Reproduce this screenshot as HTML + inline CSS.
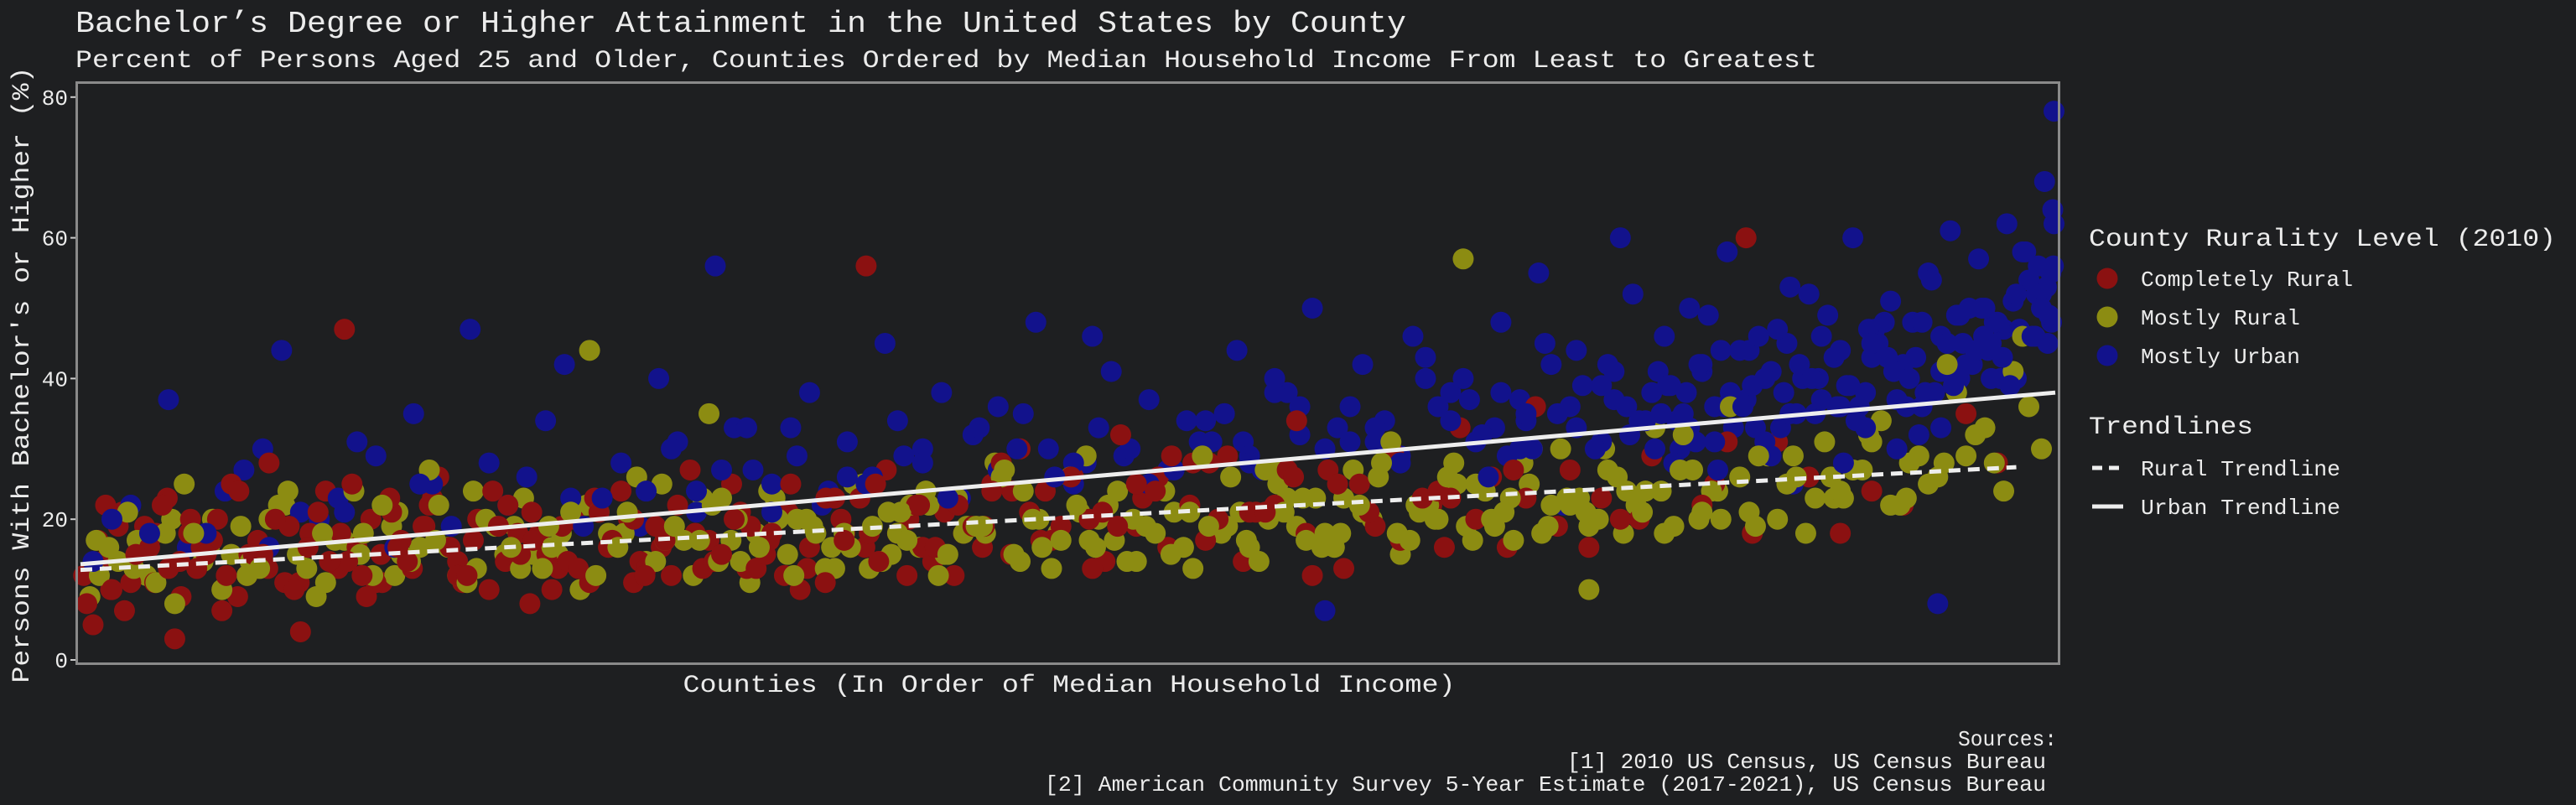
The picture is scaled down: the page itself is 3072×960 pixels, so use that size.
<!DOCTYPE html>
<html><head><meta charset="utf-8"><style>
html,body{margin:0;padding:0;background:#1e1f21;}
svg{display:block;}
text{font-family:"Liberation Mono",monospace;fill:#ececec;}
</style></head><body>
<svg id="chart" width="3072" height="960" viewBox="0 0 3072 960" xmlns="http://www.w3.org/2000/svg">
<rect x="0" y="0" width="3072" height="960" fill="#1e1f21"/>
<text x="90" y="38" font-size="36" textLength="1587" lengthAdjust="spacingAndGlyphs">Bachelor’s Degree or Higher Attainment in the United States by County</text>
<text x="90" y="80" font-size="30" textLength="2077" lengthAdjust="spacingAndGlyphs">Percent of Persons Aged 25 and Older, Counties Ordered by Median Household Income From Least to Greatest</text>
<g id="points"></g>
<g id="trends"></g>
<rect x="91.5" y="98.5" width="2364" height="693" fill="none" stroke="#8a8a8a" stroke-width="3"/>
<g id="yaxis"></g>
<text transform="translate(34,447) rotate(-90)" text-anchor="middle" font-size="30" textLength="735" lengthAdjust="spacingAndGlyphs">Persons With Bachelor's or Higher (%)</text>
<text x="1275" y="825" text-anchor="middle" font-size="30" textLength="921" lengthAdjust="spacingAndGlyphs">Counties (In Order of Median Household Income)</text>

<g>
<text x="2491" y="293" font-size="30" textLength="557" lengthAdjust="spacingAndGlyphs">County Rurality Level (2010)</text>
<g><circle cx="2513" cy="332" r="12.5" fill="#8b1111"/><text x="2553" y="341" font-size="26" textLength="253" lengthAdjust="spacingAndGlyphs">Completely Rural</text></g>
<g><circle cx="2513" cy="378" r="12.5" fill="#8c8c12"/><text x="2553" y="387" font-size="26" textLength="190" lengthAdjust="spacingAndGlyphs">Mostly Rural</text></g>
<g><circle cx="2513" cy="424" r="12.5" fill="#12128c"/><text x="2553" y="433" font-size="26" textLength="190" lengthAdjust="spacingAndGlyphs">Mostly Urban</text></g>
</g>
<g>
<text x="2491" y="517" font-size="30" textLength="196" lengthAdjust="spacingAndGlyphs">Trendlines</text>
<g><line x1="2495" y1="558" x2="2532" y2="558" stroke="#eeeeee" stroke-width="5" stroke-dasharray="12,8"/><text x="2553" y="567" font-size="26" textLength="238" lengthAdjust="spacingAndGlyphs">Rural Trendline</text></g>
<g><line x1="2495" y1="604" x2="2532" y2="604" stroke="#eeeeee" stroke-width="5"/><text x="2553" y="613" font-size="26" textLength="238" lengthAdjust="spacingAndGlyphs">Urban Trendline</text></g>
</g>

<g>
<text x="2335" y="889" font-size="26" textLength="118" lengthAdjust="spacingAndGlyphs">Sources:</text>
<text x="1869" y="916" font-size="26" textLength="571" lengthAdjust="spacingAndGlyphs">[1] 2010 US Census, US Census Bureau</text>
<text x="1246" y="943" font-size="26" textLength="1194" lengthAdjust="spacingAndGlyphs">[2] American Community Survey 5-Year Estimate (2017-2021), US Census Bureau</text>
</g>
</svg>
<script>
const yTicks = [0, 20, 40, 60, 80];
const redRank = [10,35,60,80,110,130,160,185,210,240,265,290,310,340,365,390,410,440,470,495,520,545,570,600,625,650,680,700,730,760,785,810,840,860,890,915,940,970,1000,1020,1050,1075,1100,1130,1160,1185,1210,1240,1270,1300,1330,1360,1390,1420,1450,1480,1510,1545,1580,1610,1650,1690,1730,1770,1810,1850,1900,1950,2000,2050,2100,2160,2220,2280,2350,2420,2500,2580,2660,2750,
20,50,95,140,175,225,275,325,375,425,455,505,555,615,665,715,775,825,880,930,990,1040,1090,1145,1200,1255,1315,1375,1435,1495,1560,1630,1710,1790,1870,1960,2060,2170,2300,2450,
2600,2800,3000,2900,2700,
40,120,200,300,420,560,720,880,1060,1250,1450,1680,1920,2150,2400,2650,2850,3050,
70,150,250,350,480,600,750,900,1120,1340,
5,28,48,66,88,102,118,138,158,172,192,218,232,252,268,282,298,318,332,348,362,378,396,414,432,448,462,478,492,510,528,548,568,588,608,632,656,676,696,718,742,766,792,818,846,872,898,924,950,978,1008,1036,1066,1096,1126,1156,1186,1216,1248,1282,1318,1356,1396,1438,1482,1528,1576,1626,1680,1736,1796,1860,1930,2010,2090,2180,2270,2370,2480,2620,
1215,1265,1335,1405,1465,1535,1605,1655,1715,1765,1825,1885,1935,1985,2035,2085,2135,2195,2245,2315,2385,2435,2515,2545,2635,2715,2785,2865,2945,3025];
const redPct = [8,14,19,11,16,22,9,13,17,25,12,15,20,10,18,24,13,16,11,21,14,19,26,12,17,10,22,15,18,13,20,11,16,24,14,19,12,27,17,15,21,13,18,25,16,11,20,23,14,18,22,16,12,19,24,15,21,17,26,13,19,23,16,28,20,14,22,18,25,21,17,24,20,27,19,23,29,22,18,26,
5,10,17,13,20,7,15,11,18,14,9,16,22,12,19,8,14,21,11,17,13,20,15,10,23,18,12,21,16,30,19,14,24,17,21,12,19,16,23,20,
25,18,35,22,31,
22,18,15,28,47,23,17,20,13,56,25,19,27,22,16,60,24,28,
7,3,9,4,11,14,10,13,12,16,
12,17,10,21,15,19,11,23,14,18,16,20,12,24,15,17,13,22,19,11,16,21,14,18,25,12,20,15,23,17,13,19,22,16,11,20,24,14,18,21,15,19,13,23,17,20,12,16,22,18,14,25,19,17,21,13,23,18,16,27,20,14,22,19,24,17,26,21,25,29,
28,21,26,13,29,23,16,27,20,31,17,25,22,18,28,24,20,32,26,22,29,21,34,27,25,30,23,33,26,36];
const oliveRank = [15,45,75,105,135,165,195,225,255,285,315,345,375,405,435,465,495,525,555,585,615,645,675,705,735,765,795,825,855,885,915,945,975,1005,1035,1065,1095,1125,1155,1185,1215,1245,1275,1305,1335,1365,1395,1425,1455,1485,1515,1545,1575,1605,1635,1665,1695,1725,1755,1785,1815,1845,1875,1905,1935,1965,1995,2025,2055,2085,2115,2145,2175,2205,2235,2265,2295,2325,2355,2385,2415,2445,2475,2505,2535,2565,2595,2625,2655,2685,2715,2745,2775,2805,2835,2865,2895,2925,2955,2985,3015,3045,3075,3100,
30,90,150,210,270,330,390,450,510,570,630,690,750,810,870,930,990,1050,1110,1170,1230,1290,1350,1410,1470,1530,1590,1650,1710,1770,1830,1890,1950,2010,2070,2130,2190,2250,2310,2370,2430,2490,2550,2610,2670,2730,2790,2850,2910,2970,3030,3090,1000,1600,2200,500,2800,1300,1900,2400,
60,120,180,240,300,360,420,480,540,600,660,720,780,840,900,960,1020,1080,1140,1200,1260,1320,1380,1440,1500,1560,1620,1680,1740,1800,1860,1920,1980,2040,2100,2160,2220,2280,2340,2400,2460,2520,2580,2640,2700,2760,2820,2880,2940,3000,3060,3120,
700,760,820,1015,1075,1135,1195,1255,1315,1375,1435,1495,1555,1615,1675,1735,1795,1855,1915,1975,2035,2095,2155,2215,2275,2335,2395,2455,2515,2575,
25,85,145,205,265,325,385,445,505,565,625,685,745,805,865,925,985,1045,1105,1165,1225,1285,1345,1405,1465,1525,1585,1645,1705,1765,1825,1885,1945,2005,2065,2125,2185,2245,2305,2365,2425,2485,2545,2605,2665,2725,2785,2845,2905,2965];
const olivePct = [9,16,21,12,18,25,14,10,19,13,22,15,9,17,24,12,19,14,27,16,11,20,15,23,13,18,10,21,16,26,14,19,12,22,17,11,24,15,20,13,18,25,14,21,16,12,23,19,28,15,20,13,26,17,22,14,19,24,16,29,18,21,14,25,19,23,16,27,20,31,17,22,26,19,24,21,28,18,30,23,20,26,22,33,19,27,24,36,21,29,25,18,31,23,27,34,22,29,26,38,32,28,41,36,
12,17,8,20,14,24,11,18,15,22,13,19,16,44,21,17,23,14,20,18,25,15,22,19,27,16,21,24,18,13,26,20,17,23,28,21,25,19,30,22,27,24,32,20,29,26,23,31,28,42,33,46,35,29,57,12,24,18,27,10,
14,11,18,15,20,13,17,22,16,12,19,15,21,18,14,17,23,16,20,13,19,22,15,18,24,17,20,14,21,19,16,23,18,21,15,20,25,17,22,19,24,18,21,26,20,23,27,22,25,29,24,30,
13,15,12,14,18,12,16,13,17,15,19,14,18,16,20,15,19,17,21,16,22,18,20,17,23,19,21,18,24,20,
17,13,20,16,12,22,18,15,21,17,24,16,19,22,18,25,17,20,23,19,16,21,24,18,26,20,22,17,25,21,19,27,23,18,26,22,28,20,25,23,30,21,27,24,19,29,26,32,23,28];
const blueRank = [20,80,140,200,260,320,380,440,500,560,620,680,740,800,860,920,980,1040,1100,1160,1220,1280,1340,1400,1460,1520,1580,1640,1700,1760,1800,1840,1880,1920,1960,2000,2040,2080,2120,2160,2200,2230,2260,2290,2320,2350,2380,2410,2440,2470,2500,2520,2540,2560,2580,2600,2620,2640,2660,2680,2700,2720,2740,2760,2780,2800,2820,2840,2860,2880,2900,2915,2930,2945,2960,2975,2990,3005,3020,3035,3050,3065,3080,3095,3110,3125,3135,3140,
50,170,290,410,530,650,770,890,1010,1130,1250,1370,1490,1610,1730,1820,1900,1980,2060,2140,2210,2270,2330,2390,2450,2510,2550,2590,2630,2670,2710,2750,2790,2830,2870,2910,2940,2970,3000,3030,3060,3090,3120,3138,
2505,2555,2605,2655,2705,2755,2805,2855,2905,2955,3010,3045,3070,3100,3130,
2480,2580,2690,2770,2850,2925,2990,3055,3115,3140,
2240,2300,2360,2420,2535,2615,2725,2815,2890,2960,
110,230,350,470,590,710,830,950,1070,1190,1310,1430,1550,1670,1790,1860,1940,2020,2100,2180,2250,2310,2370,2430,2490,2530,2570,2610,2650,2690,2730,2770,2810,2850,2890,2930,2960,2995,3025,3058,3085,3112,3132,
2515,2545,2575,2625,2665,2715,2765,2795,2845,2885,2935,2985,3015,3040,3075,3105,3128,3139,2465,2525,2645,2735,2825,2875,2950,3028,3080,3136,
900,940,980,1020,1060,1100,1140,1180,1220,1260,1300,1340,1380,1420,1460,1500,1540,1580,1620,1660,1700,1740,1780,1820,1860,1900,1940,1980,2020,2060,2100,2140,2180,2220,2260,2300,2340,2380,2420,2460,
300,420,540,660,780,1600,1850,2075,2290,2440,2560,2680,2800,2920,3040,3120,2600,2720,2840,2980];
const bluePct = [14,22,37,18,27,44,20,31,16,25,47,22,34,19,28,40,24,33,21,38,26,45,30,23,36,48,28,41,25,34,31,44,27,38,50,33,42,29,46,36,40,32,48,37,55,35,44,30,41,52,38,46,34,50,42,36,58,44,39,31,47,53,40,35,49,44,60,38,45,51,42,48,36,54,46,61,40,50,57,44,48,62,52,58,46,68,55,78,
20,16,30,23,35,28,42,19,56,33,25,38,30,46,27,35,40,7,31,43,37,29,45,39,60,41,35,49,33,46,38,52,43,36,48,40,55,45,42,50,47,58,52,64,
30,38,27,44,33,40,28,47,36,8,42,48,39,54,45,
34,41,29,37,45,32,49,40,56,62,
26,34,22,31,28,36,25,39,30,33,
18,24,21,29,19,26,23,31,27,24,29,33,26,30,34,29,36,31,28,38,33,30,36,42,34,39,31,44,37,41,35,46,39,43,37,48,41,45,50,43,47,52,49,
35,30,42,38,33,45,40,36,47,41,38,49,44,40,51,46,53,56,32,39,36,42,34,43,38,46,40,48,
24,30,21,27,33,25,29,22,31,26,34,28,23,32,27,35,30,25,33,29,37,27,31,35,28,38,32,30,36,33,29,40,34,31,38,35,42,33,39,36,
16,21,25,19,23,28,31,34,30,37,33,40,36,43,45,50,31,35,33,39];
const ruralTrendPct = [12.8, 27.4];
const ruralTrendRank = [0, 3080];
const urbanTrendPct = [13.6, 38.0];
const urbanTrendRank = [0, 3142];

const NS = 'http://www.w3.org/2000/svg';
const maxRank = 3142;
function xScale(r){ return 96 + r / maxRank * 2355; }
function yScale(v){ return 787 - v * 8.39; }

const pts = document.getElementById('points');
const series = [
  {rank: redRank, pct: redPct, color: '#8b1111', name: 'point-completely-rural'},
  {rank: oliveRank, pct: olivePct, color: '#8c8c12', name: 'point-mostly-rural'},
  {rank: blueRank, pct: bluePct, color: '#12128c', name: 'point-mostly-urban'}
];
const all = [];
series.forEach(s => { const n = Math.min(s.rank.length, s.pct.length); for (let i = 0; i < n; i++) all.push({r: s.rank[i], v: s.pct[i], c: s.color, n: s.name, k: i}); });
all.sort((a, b) => ((a.r * 7919 + a.k * 31) % 997) - ((b.r * 7919 + b.k * 31) % 997));
all.forEach(p => {
  const c = document.createElementNS(NS, 'circle');
  c.setAttribute('cx', xScale(p.r));
  c.setAttribute('cy', yScale(p.v));
  c.setAttribute('r', 12.5);
  c.setAttribute('fill', p.c);
  
  
  pts.appendChild(c);
});

const tr = document.getElementById('trends');
const ul = document.createElementNS(NS, 'line');
ul.setAttribute('x1', xScale(urbanTrendRank[0])); ul.setAttribute('y1', yScale(urbanTrendPct[0]));
ul.setAttribute('x2', xScale(urbanTrendRank[1])); ul.setAttribute('y2', yScale(urbanTrendPct[1]));
ul.setAttribute('stroke', '#eeeeee'); ul.setAttribute('stroke-width', '5');


tr.appendChild(ul);
const rl = document.createElementNS(NS, 'line');
rl.setAttribute('x1', xScale(ruralTrendRank[0])); rl.setAttribute('y1', yScale(ruralTrendPct[0]));
rl.setAttribute('x2', xScale(ruralTrendRank[1])); rl.setAttribute('y2', yScale(ruralTrendPct[1]));
rl.setAttribute('stroke', '#eeeeee'); rl.setAttribute('stroke-width', '5'); rl.setAttribute('stroke-dasharray', '14,9');


tr.appendChild(rl);

const ya = document.getElementById('yaxis');
yTicks.forEach(t => {
  const l = document.createElementNS(NS, 'line');
  l.setAttribute('x1', 84); l.setAttribute('x2', 90);
  l.setAttribute('y1', yScale(t)); l.setAttribute('y2', yScale(t));
  l.setAttribute('stroke', '#cccccc'); l.setAttribute('stroke-width', '2');
  
  
  ya.appendChild(l);
  const tx = document.createElementNS(NS, 'text');
  tx.setAttribute('x', 81); tx.setAttribute('y', yScale(t) + 9);
  tx.setAttribute('text-anchor', 'end'); tx.setAttribute('font-size', '26');
  tx.textContent = String(t);
  
  
  ya.appendChild(tx);
});
</script>
</body></html>
